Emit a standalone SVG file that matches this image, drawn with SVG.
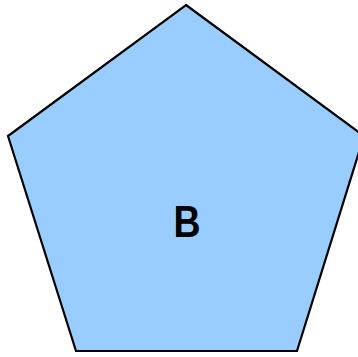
<svg xmlns="http://www.w3.org/2000/svg" width="358" height="357" viewBox="0 0 358 357">
<style>
.shape{fill:#99ccff;stroke:#000;stroke-width:2.2;stroke-linejoin:miter}
.label{font-family:"Liberation Sans",Arial,sans-serif;font-weight:bold;font-size:44px;fill:#000;text-anchor:middle}
</style>
<g id="node-B">
<polygon class="shape" points="186,5 364,136 297,351 76,351 8,136"/>
<text class="label" transform="translate(187,237) scale(0.85,1)" x="0" y="0">B</text>
</g>
<g id="connectors"></g>
</svg>
